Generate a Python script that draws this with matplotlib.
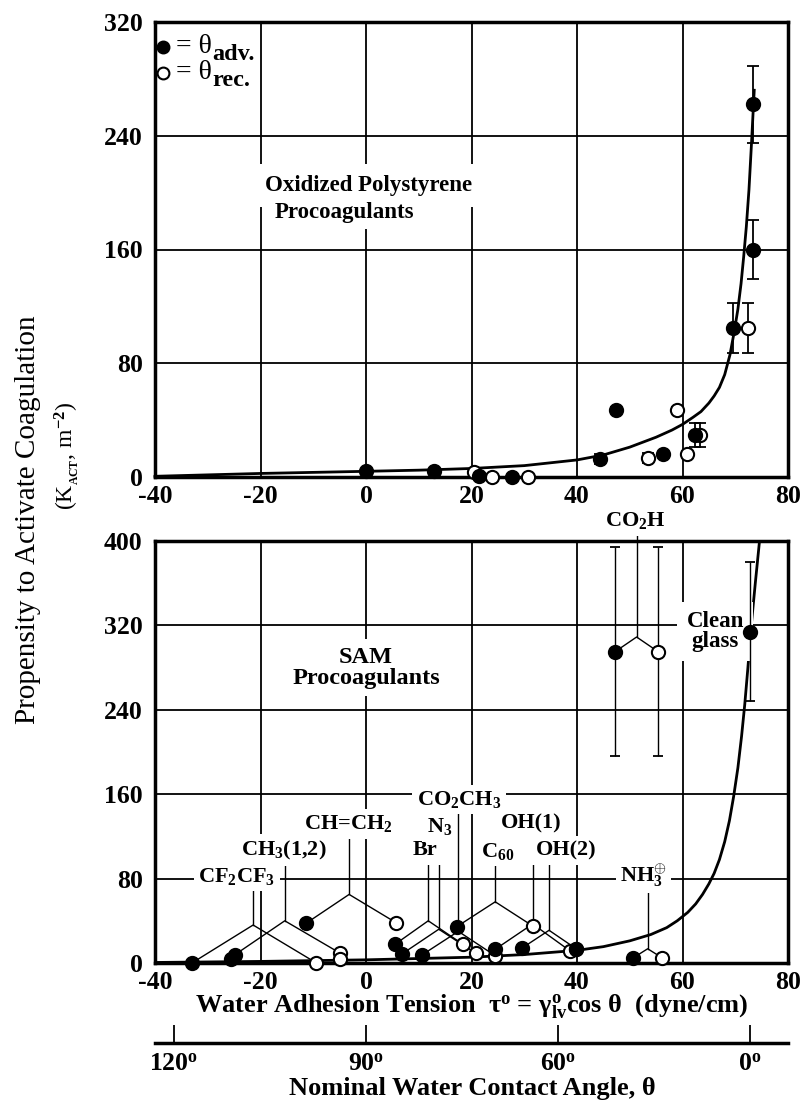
import matplotlib
matplotlib.use('Agg')
import matplotlib.pyplot as plt
import numpy as np

plt.rcParams['font.family'] = ['Liberation Serif', 'DejaVu Serif']
plt.rcParams['font.weight'] = 'bold'
plt.rcParams['mathtext.fontset'] = 'custom'
plt.rcParams['mathtext.rm'] = 'Liberation Serif:bold'
plt.rcParams['mathtext.it'] = 'Liberation Serif:bold'
plt.rcParams['mathtext.bf'] = 'Liberation Serif:bold'
plt.rcParams['axes.unicode_minus'] = False

# --- Oxidized polystyrene (top panel) ---
ps_adv_x = [0, 12.8, 21.4, 27.7, 44.3, 47.3, 56.3, 62.3, 69.5, 73.3, 73.3]
ps_adv_y = [4, 4, 0.5, 0, 12.6, 47.3, 15.9, 29.6, 105, 262, 160]
ps_adv_err = [0, 0, 0, 0, 3.8, 2, 0, 8.3, 17.5, 27, 21]
ps_rec_x = [20.5, 23.9, 30.7, 53.4, 59.0, 60.9, 63.4, 72.4]
ps_rec_y = [3.6, 0, 0, 13.5, 47.3, 16.5, 29.6, 105]
ps_rec_err = [0, 0, 0, 3.5, 2, 0, 8.3, 17.5]
ps_fit_x = [-40, -20, 0, 10, 20, 30, 40, 45, 50, 55, 58, 60, 62, 63.5, 65, 66, 67, 68, 69,
            69.8, 70.5, 71.1, 71.6, 72.1, 72.6, 73.1, 73.6]
ps_fit_y = [0.5, 2.5, 4, 4.8, 6, 8, 12, 15.5, 21, 28, 33, 37, 42, 46, 52, 57, 63, 72, 86,
            102, 118, 136, 155, 176, 202, 236, 272]

# --- SAM procoagulants (bottom panel) ---
sam_labels = ['CF$_2$CF$_3$', 'CH$_3$(1,2)', 'CH=CH$_2$', 'Br', 'N$_3$', 'CO$_2$CH$_3$',
              'C$_{60}$', 'OH(1)', 'OH(2)', 'NH$_3^{\\oplus}$', 'CO$_2$H']
sam_adv_x = [-33.0, -24.8, -11.4, 5.5, 6.8, 10.6, 17.2, 24.5, 29.5, 50.7, 47.2]
sam_adv_y = [0, 8.0, 37.5, 17.7, 8.5, 7.6, 34.4, 13.0, 13.9, 5.0, 295]
sam_rec_x = [-9.4, -5.0, 5.7, 18.3, 20.8, 24.5, 31.6, 38.7, 39.9, 56.1, 55.4]
sam_rec_y = [0, 9.6, 38.2, 18.0, 9.2, 6.9, 35.1, 11.4, 13.3, 5.0, 295]
sam_err = [0, 0, 0, 0, 0, 0, 0, 0, 0, 0, 99]
sam_apex_x = [-21.4, -15.4, -3.2, 11.8, 13.8, 17.5, 24.5, 31.6, 34.7, 53.4, 51.3]
sam_apex_y = [36, 40, 65, 40, 32, 30, 58, 37, 31, 13.5, 309]
# second CH3 film and overlapping OH point
extra_adv_x = [-25.6, 39.9]
extra_adv_y = [4.2, 13.3]
extra_rec_x = [-5.0]
extra_rec_y = [4.2]
glass_x = [72.8]
glass_y = [314]
glass_err = [66]
sam_fit_x = [-40, -20, 0, 20, 30, 40, 45, 50, 54, 57, 59, 61, 62.5, 63.8, 65, 66, 67, 68,
             68.9, 69.7, 70.5, 71.2, 71.8, 72.4, 73.0, 73.8, 74.6]
sam_fit_y = [0.5, 1.5, 3, 5.5, 8, 12, 15.5, 21, 27, 33.5, 40, 48, 56, 65, 75, 85, 98, 115,
             135, 158, 185, 215, 245, 280, 318, 360, 400]

angle_ticks = [120, 90, 60, 0]
gamma_lv = 72.8

# label positions (bottom panel, data units)
lab_x = [-24.5, -15.6, -3.3, 11.2, 13.9, 17.6, 25.0, 31.4, 38.0, 52.6, 51.1]
lab_y = [82, 107, 132, 107, 129, 155, 106, 132, 107, 83, 419]

fig = plt.figure(figsize=(8.06, 11.02), dpi=100)
L, W = 155 / 806, 633 / 806
ax1 = fig.add_axes([L, 1 - 477 / 1102, W, 455 / 1102])
ax2 = fig.add_axes([L, 1 - 963 / 1102, W, 422 / 1102])

for ax, ymax in ((ax1, 320), (ax2, 400)):
    ax.set_xlim(-40, 80)
    ax.set_ylim(0, ymax)
    ax.set_xticks(range(-40, 81, 20))
    ax.set_yticks(range(0, ymax + 1, 80))
    ax.set_axisbelow(True)
    ax.grid(color='black', lw=1.3)
    for s in ax.spines.values():
        s.set_linewidth(2.5)
    ax.tick_params(length=0, labelsize=18.5)
    ax.tick_params(axis='y', pad=9)
    ax.tick_params(axis='x', pad=6)

mk = dict(marker='o', ms=9.5, mew=1.5, mec='black', ls='none', clip_on=False, zorder=6)
eb = dict(fmt='none', ecolor='black', elinewidth=1.3, capsize=4.3, capthick=1.3, zorder=4)

# top panel
ax1.plot(ps_fit_x, ps_fit_y, color='black', lw=2.0, zorder=3, clip_on=False)
ax1.errorbar([x for x, e in zip(ps_adv_x, ps_adv_err) if e],
             [y for y, e in zip(ps_adv_y, ps_adv_err) if e],
             yerr=[e for e in ps_adv_err if e], **eb)
ax1.errorbar([x for x, e in zip(ps_rec_x, ps_rec_err) if e],
             [y for y, e in zip(ps_rec_y, ps_rec_err) if e],
             yerr=[e for e in ps_rec_err if e], **eb)
ax1.plot(ps_rec_x, ps_rec_y, mfc='white', **mk)
ax1.plot(ps_adv_x, ps_adv_y, mfc='black', **mk)

ax1.text(0.4, 205, 'Oxidized Polystyrene', ha='center', va='center', fontsize=16.5,
         bbox=dict(boxstyle='square,pad=0.5', fc='white', ec='none'), zorder=5)
ax1.text(-4.0, 186, 'Procoagulants', ha='center', va='center', fontsize=16.5,
         bbox=dict(boxstyle='square,pad=0.25', fc='white', ec='none'), zorder=5)

# legend
ax1.plot([0.012], [0.945], transform=ax1.transAxes, mfc='black', **dict(mk, ms=8.5))
ax1.plot([0.012], [0.888], transform=ax1.transAxes, mfc='white', **dict(mk, ms=8.5))
ax1.text(0.033, 0.947, '= θ', transform=ax1.transAxes, fontsize=20, va='center', ha='left',
         fontweight='normal')
ax1.text(0.033, 0.890, '= θ', transform=ax1.transAxes, fontsize=20, va='center', ha='left',
         fontweight='normal')
ax1.text(0.090, 0.928, 'adv.', transform=ax1.transAxes, fontsize=17.5, va='center', ha='left')
ax1.text(0.090, 0.871, 'rec.', transform=ax1.transAxes, fontsize=17.5, va='center', ha='left')

# bottom panel
ax2.plot(sam_fit_x, sam_fit_y, color='black', lw=2.0, zorder=3)
lbox = dict(boxstyle='square,pad=0.2', fc='white', ec='none')
for i, lab in enumerate(sam_labels):
    ax2.plot([sam_adv_x[i], sam_apex_x[i], sam_rec_x[i]],
             [sam_adv_y[i], sam_apex_y[i], sam_rec_y[i]], color='black', lw=1.0, zorder=4)
    ax2.plot([sam_apex_x[i], sam_apex_x[i]], [sam_apex_y[i], lab_y[i]], color='black', lw=1.0,
             zorder=4, clip_on=False)
    ax2.text(lab_x[i], lab_y[i], lab, ha='center', va='center', fontsize=16,
             bbox=lbox, zorder=5, clip_on=False)
    if sam_err[i]:
        ax2.errorbar([sam_adv_x[i], sam_rec_x[i]], [sam_adv_y[i], sam_rec_y[i]],
                     yerr=sam_err[i], fmt='none', ecolor='black', elinewidth=1.0,
                     capsize=3.3, capthick=1.3, zorder=4)

ax2.errorbar(glass_x, glass_y, yerr=glass_err, fmt='none', ecolor='black', elinewidth=1.0,
             capsize=3.3, capthick=1.3, zorder=6)
ax2.text(66.2, 314, 'Clean\nglass', ha='center', va='center', fontsize=16.5, linespacing=0.95,
         bbox=dict(boxstyle='square,pad=0.4', fc='white', ec='none'), zorder=5)
ax2.text(0, 280, 'SAM\nProcoagulants', ha='center', va='center', fontsize=17.5, linespacing=1.0,
         bbox=dict(boxstyle='square,pad=0.3', fc='white', ec='none'), zorder=5)

ax2.plot(sam_rec_x, sam_rec_y, mfc='white', **mk)
ax2.plot(extra_rec_x, extra_rec_y, mfc='white', **mk)
ax2.plot(sam_adv_x, sam_adv_y, mfc='black', **mk)
ax2.plot(extra_adv_x, extra_adv_y, mfc='black', **mk)
ax2.plot(glass_x, glass_y, mfc='black', **dict(mk, zorder=7))

fig.text(471.5 / 806, 1 - 1007 / 1102,
         r'Water Adhesion Tension  τ$^{\mathrm{o}}$ = γ$^{\mathrm{o}}_{\mathrm{lv}}$cos θ  (dyne/cm)',
         ha='center', va='center', fontsize=19)

# contact angle scale
ax3 = fig.add_axes([L, 1 - 1043 / 1102, W, 0.0005])
ax3.set_xlim(-40, 80)
ax3.set_yticks([])
for s in ('top', 'left', 'right'):
    ax3.spines[s].set_visible(False)
ax3.spines['bottom'].set_linewidth(2.5)
ax3.set_xticks([gamma_lv * np.cos(np.radians(a)) for a in angle_ticks])
ax3.set_xticklabels([f'{a}$^{{\\mathrm{{o}}}}$' for a in angle_ticks])
ax3.tick_params(axis='x', direction='in', length=13, width=1.3, labelsize=18.5, pad=7)
fig.text(472 / 806, 1 - 1088 / 1102, 'Nominal Water Contact Angle, θ',
         ha='center', va='center', fontsize=19)

# y label
fig.text(28 / 806, 1 - 520 / 1102, 'Propensity to Activate Coagulation', rotation=90,
         ha='center', va='center', fontsize=21, fontweight='normal')
fig.text(67 / 806, 1 - 456 / 1102, r'(K$_{_{\mathrm{ACT}}}$, m$^{-2}$)', rotation=90,
         ha='center', va='center', fontsize=17, fontweight='normal')

fig.savefig('out.png', dpi=100)
